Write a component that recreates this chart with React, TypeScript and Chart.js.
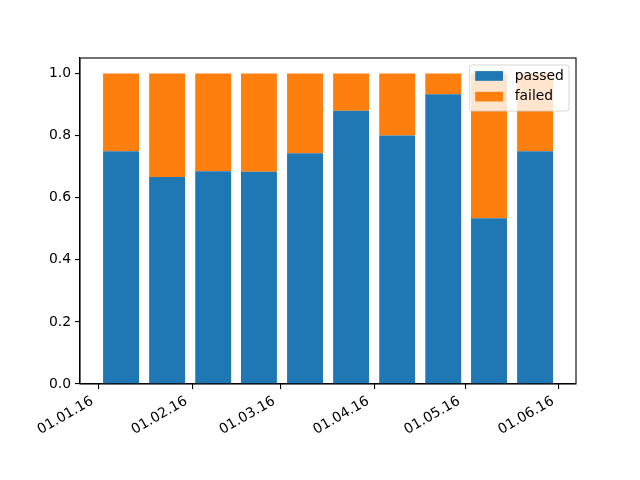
import React, { useEffect, useRef } from "react";
import { Chart, registerables } from "chart.js";

Chart.register(...registerables);

// Bar positions in days since 01.01.16
const barDays = [7.5, 22.7, 37.9, 53.0, 68.2, 83.4, 98.6, 113.8, 128.9, 144.1];
const passed = [0.75, 0.667, 0.685, 0.684, 0.743, 0.88, 0.8, 0.933, 0.534, 0.75];
const failed = [0.25, 0.333, 0.315, 0.316, 0.257, 0.12, 0.2, 0.067, 0.466, 0.25];
const xTickDays = [0, 31, 60, 91, 121, 152];
const xTickLabels = ["01.01.16", "01.02.16", "01.03.16", "01.04.16", "01.05.16", "01.06.16"];
const yTicks = [0, 0.2, 0.4, 0.6, 0.8, 1.0];
const seriesNames = ["passed", "failed"];
const seriesColors = ["#1f77b4", "#ff7f0e"];

const FONT = "DejaVu Sans";
const FS = 13.9;

const framePlugin = {
  id: "frame",
  afterDraw(chart: any) {
    const { ctx, chartArea } = chart;
    ctx.save();
    ctx.strokeStyle = "#000";
    ctx.lineWidth = 1.1;
    ctx.strokeRect(chartArea.left, chartArea.top, chartArea.right - chartArea.left, chartArea.bottom - chartArea.top);
    // legend
    const w = 99.3;
    const h = 46;
    const x0 = chartArea.right - 7 - w;
    const y0 = chartArea.top + 7;
    const r = 2.8;
    ctx.beginPath();
    ctx.moveTo(x0 + r, y0);
    ctx.lineTo(x0 + w - r, y0);
    ctx.arcTo(x0 + w, y0, x0 + w, y0 + r, r);
    ctx.lineTo(x0 + w, y0 + h - r);
    ctx.arcTo(x0 + w, y0 + h, x0 + w - r, y0 + h, r);
    ctx.lineTo(x0 + r, y0 + h);
    ctx.arcTo(x0, y0 + h, x0, y0 + h - r, r);
    ctx.lineTo(x0, y0 + r);
    ctx.arcTo(x0, y0, x0 + r, y0, r);
    ctx.closePath();
    ctx.fillStyle = "rgba(255,255,255,0.8)";
    ctx.fill();
    ctx.strokeStyle = "rgba(204,204,204,0.8)";
    ctx.lineWidth = 1;
    ctx.stroke();
    ctx.font = `${FS}px "${FONT}"`;
    ctx.textBaseline = "middle";
    ctx.textAlign = "left";
    seriesNames.forEach((name, i) => {
      const cy = y0 + 11 + i * 20.7;
      ctx.fillStyle = seriesColors[i];
      ctx.fillRect(x0 + 5.5, cy - 4.9, 27.8, 9.7);
      ctx.fillStyle = "#000";
      ctx.fillText(name, x0 + 45, cy);
    });
    ctx.restore();
  },
};

export default function App() {
  const ref = useRef<HTMLCanvasElement>(null);
  useEffect(() => {
    document.body.style.margin = "0";
    const canvas = ref.current!;
    const chart = new Chart(canvas, {
      type: "bar",
      data: {
        datasets: [0, 1].map((k) => ({
          label: seriesNames[k],
          data: barDays.map((d, i) => ({ x: d, y: k === 0 ? passed[i] : failed[i] })),
          backgroundColor: seriesColors[k],
          borderWidth: 0,
          barPercentage: 1,
          categoryPercentage: 0.785,
        })),
      },
      options: {
        animation: false,
        responsive: false,
        devicePixelRatio: 1,
        layout: { padding: { top: 58, right: 64, left: 0, bottom: 0 } },
        plugins: { legend: { display: false }, tooltip: { enabled: false } },
        scales: {
          x: {
            type: "linear",
            offset: false,
            stacked: true,
            min: -6.04,
            max: 157.6,
            afterBuildTicks: (scale: any) => {
              scale.ticks = xTickDays.map((v) => ({ value: v }));
            },
            afterFit: (scale: any) => {
              scale.height = 96;
            },
            grid: { offset: false, drawOnChartArea: false, drawTicks: true, tickLength: 5, color: "#000", lineWidth: 1.1 },
            border: { display: true, color: "#000", width: 1.1 },
            ticks: {
              minRotation: 30,
              maxRotation: 30,
              autoSkip: false,
              padding: 4,
              labelOffset: -6,
              color: "#000",
              font: { family: FONT, size: FS },
              callback: (_v: any, i: number) => xTickLabels[i],
            },
          },
          y: {
            stacked: true,
            min: 0,
            max: 1.05,
            afterBuildTicks: (scale: any) => {
              scale.ticks = yTicks.map((v) => ({ value: v }));
            },
            afterFit: (scale: any) => {
              scale.width = 80;
            },
            grid: { drawOnChartArea: false, drawTicks: true, tickLength: 5, color: "#000", lineWidth: 1.1 },
            border: { display: true, color: "#000", width: 1.1 },
            ticks: {
              padding: 4,
              color: "#000",
              font: { family: FONT, size: FS },
              callback: (v: any) => Number(v).toFixed(1),
            },
          },
        },
      },
      plugins: [framePlugin],
    } as any);
    return () => chart.destroy();
  }, []);
  return <canvas ref={ref} width={640} height={480} style={{ display: "block" }} />;
}
